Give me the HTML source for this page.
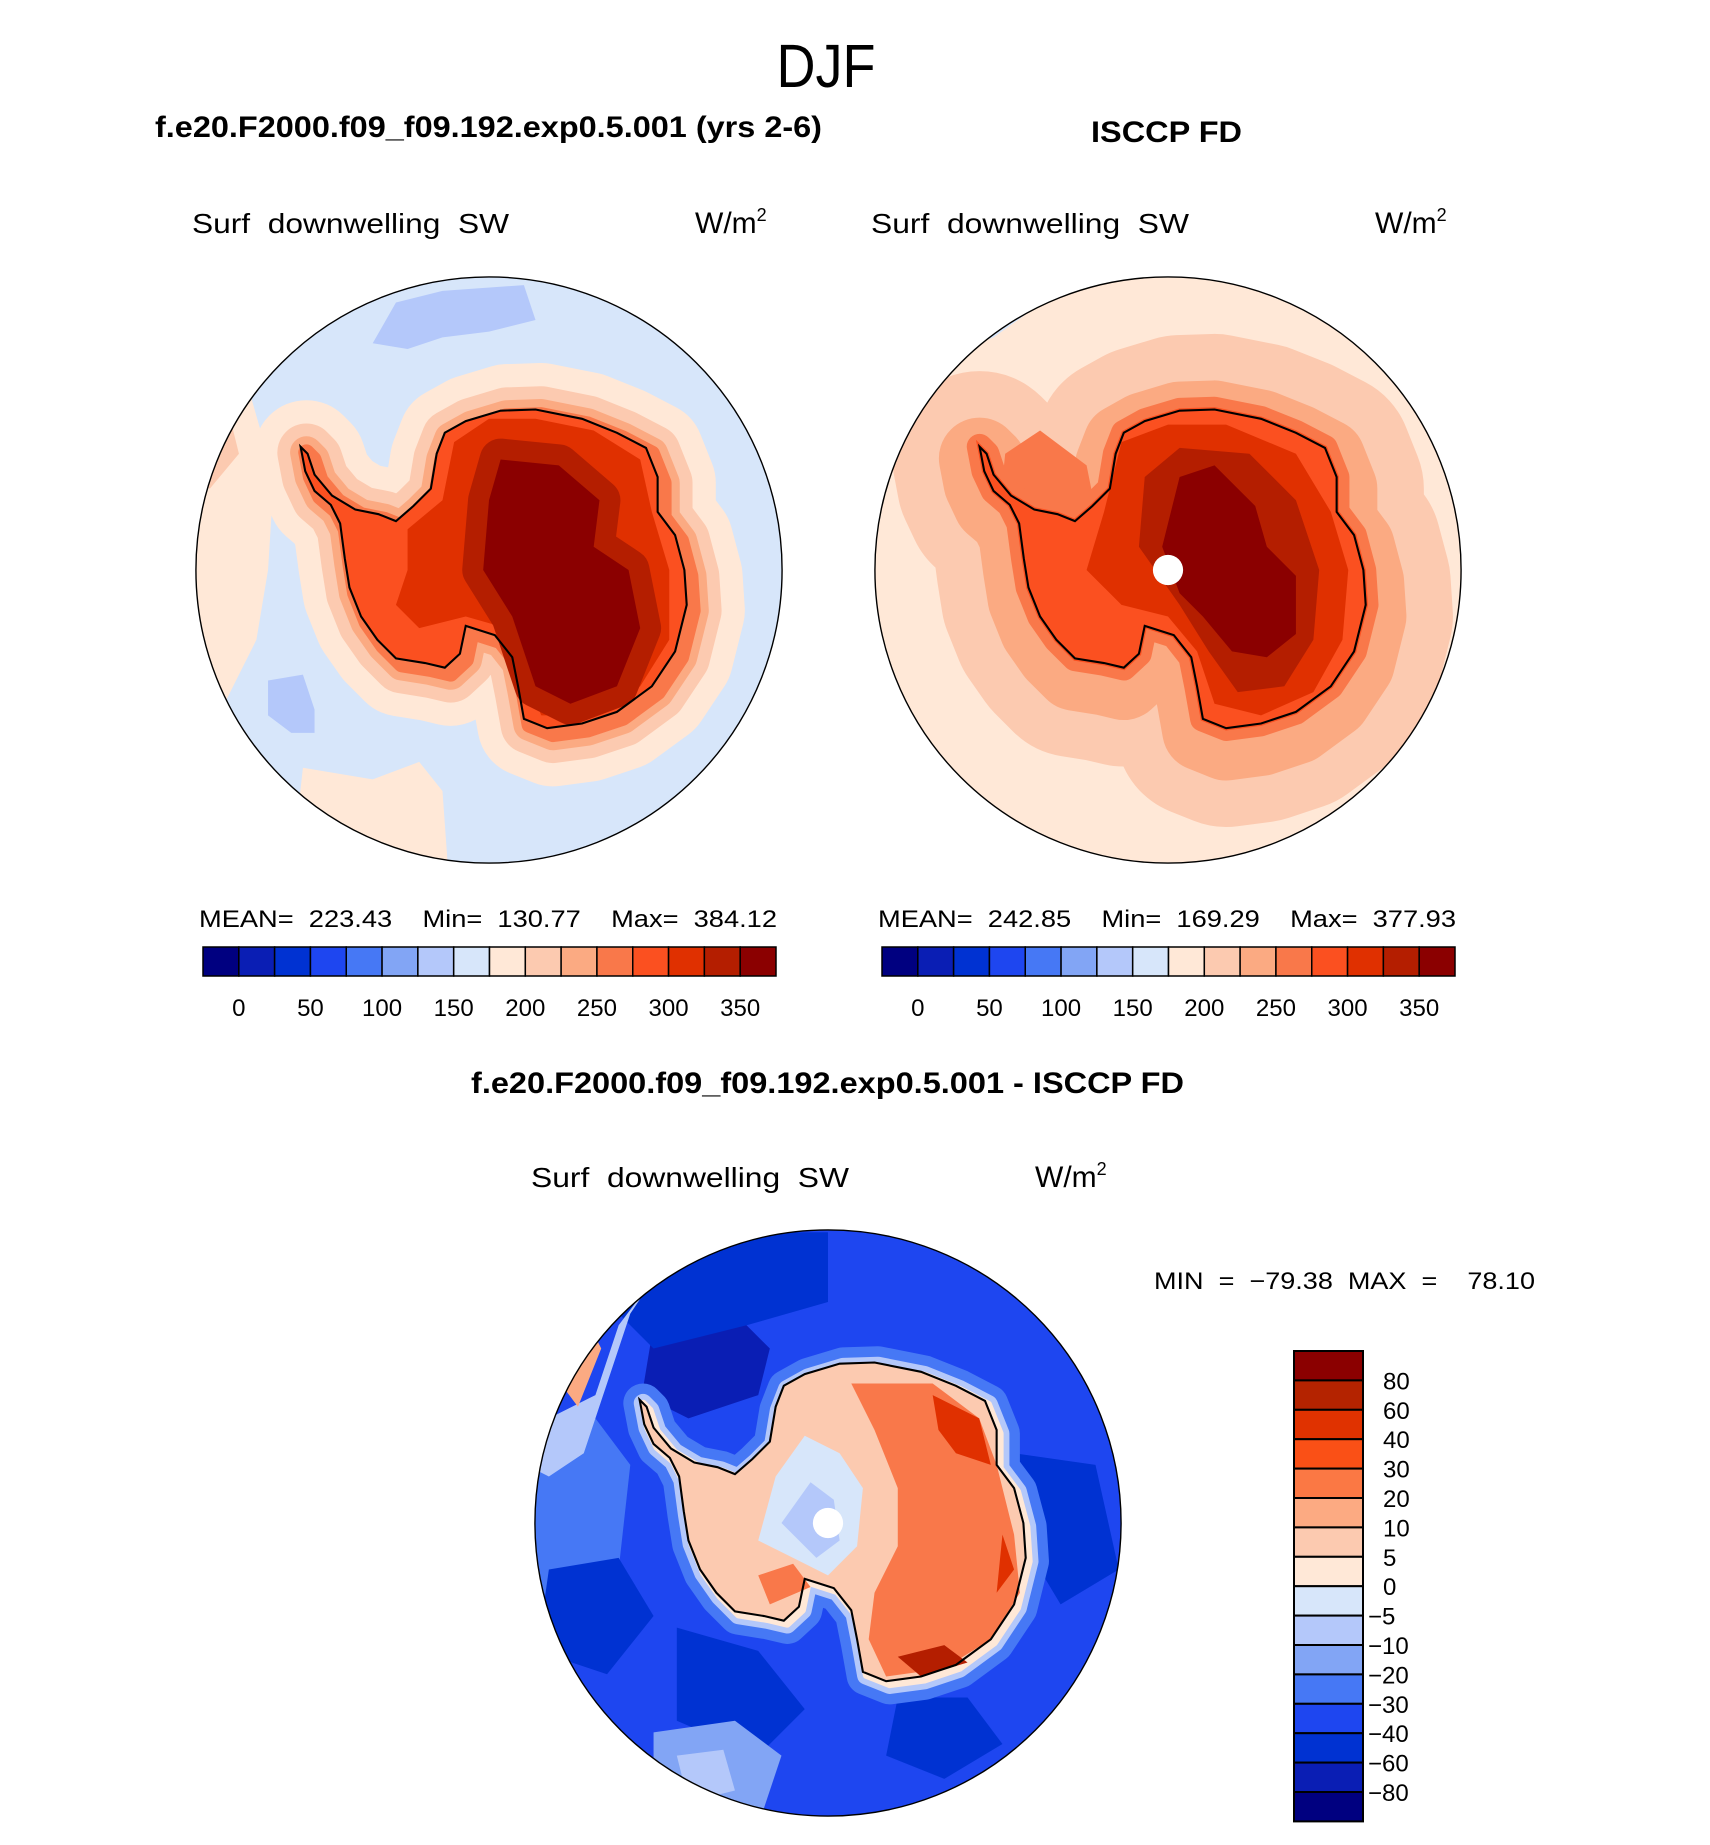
<!DOCTYPE html>
<html><head><meta charset="utf-8"><style>
html,body{margin:0;padding:0;background:#fff;}
svg text{font-family:"Liberation Sans",sans-serif;white-space:pre;}
</style></head><body>
<svg id="root" width="1710" height="1840" viewBox="0 0 1710 1840" xmlns="http://www.w3.org/2000/svg" xml:space="preserve">
<defs>
<clipPath id="cl"><circle cx="0" cy="0" r="252"/></clipPath>
<path id="cont" d="M-162,-106 L-158,-85 L-150,-68 L-136,-56 L-128,-40 L-124,-10 L-120,15 L-110,40 L-96,60 L-80,76 L-55,80 L-38,84 L-25,72 L-20,48 L5,56 L20,75 L25,100 L30,128 L50,136 L80,132 L110,122 L140,100 L160,70 L170,30 L168,0 L160,-30 L145,-50 L145,-80 L135,-105 L110,-118 L80,-130 L40,-138 L10,-137 L-20,-128 L-38,-118 L-45,-100 L-50,-70 L-65,-55 L-80,-42 L-95,-48 L-115,-52 L-135,-64 L-150,-82 L-156,-100 Z"/>
<path id="core" d="M10,-95 L60,-90 L95,-60 L90,-20 L120,0 L130,50 L110,100 L70,115 L40,100 L20,40 L-5,0 L0,-60 Z"/>
</defs>

<text x="826" y="87" font-size="56" text-anchor="middle" textLength="99" lengthAdjust="spacingAndGlyphs" transform="translate(826,87) scale(1,1.1) translate(-826,-87)">DJF</text>
<text x="155" y="137" font-size="30" font-weight="bold" textLength="667" lengthAdjust="spacingAndGlyphs">f.e20.F2000.f09_f09.192.exp0.5.001 (yrs 2-6)</text>
<text x="1091" y="142" font-size="30" font-weight="bold" textLength="151" lengthAdjust="spacingAndGlyphs">ISCCP FD</text>

<text x="192" y="233" font-size="28" textLength="317" lengthAdjust="spacingAndGlyphs">Surf  downwelling  SW</text>
<text x="695" y="233" font-size="30">W/m<tspan font-size="18" dy="-12">2</tspan></text>
<text x="871" y="233" font-size="28" textLength="318" lengthAdjust="spacingAndGlyphs">Surf  downwelling  SW</text>
<text x="1375" y="233" font-size="30">W/m<tspan font-size="18" dy="-12">2</tspan></text>

<!-- Left map -->
<g transform="translate(489,570) scale(1.163)">
<g clip-path="url(#cl)">
<rect x="-260" y="-260" width="520" height="520" fill="#d7e6fa"/>
<path d="M-260,-200 L-205,-150 L-185,-80 L-190,0 L-200,60 L-230,120 L-260,130 Z" fill="#ffe8d7"/>
<path d="M-160,-100 L-125,-110 L-120,-60 L-130,-20 L-150,20 L-160,-40 Z" fill="#ffe8d7"/>
<path d="M-260,-160 L-225,-140 L-215,-100 L-240,-70 L-260,-80 Z" fill="#fccab0"/>
<path d="M-160,170 L-100,180 L-60,165 L-40,190 L-35,260 L-170,260 Z" fill="#ffe8d7"/>
<path d="M-80,-230 L-40,-240 L30,-245 L40,-215 L0,-205 L-40,-200 L-70,-190 L-100,-195 Z" fill="#b4c8fa"/>
<path d="M-190,95 L-160,90 L-150,120 L-150,140 L-170,140 L-190,125 Z" fill="#b4c8fa"/>
<g transform="translate(5,5)">
<use href="#cont" fill="#ffe8d7" stroke="#ffe8d7" stroke-width="90" stroke-linejoin="round"/>
<use href="#cont" fill="#fccab0" stroke="#fccab0" stroke-width="50" stroke-linejoin="round"/>
<use href="#cont" fill="#fbaa82" stroke="#fbaa82" stroke-width="28" stroke-linejoin="round"/>
<use href="#cont" fill="#f9784a" stroke="#f9784a" stroke-width="14" stroke-linejoin="round"/>
</g>
<use href="#cont" fill="#fb5020"/>
<path d="M-70,-35 L-40,-60 L-30,-110 L0,-130 L40,-130 L90,-120 L130,-95 L140,-50 L155,0 L155,60 L130,100 L90,125 L45,125 L30,90 L15,50 L-20,40 L-60,50 L-80,30 L-70,0 Z" fill="#e03000"/>
<use href="#core" fill="#b41e00" stroke="#b41e00" stroke-width="36" stroke-linejoin="round"/>
<use href="#core" fill="#8b0000"/>
<use href="#cont" fill="none" stroke="#000" stroke-width="1.8"/>
</g>
<circle cx="0" cy="0" r="252" fill="none" stroke="#000" stroke-width="1.2"/>
</g>

<!-- Right map -->
<g transform="translate(1168,570) scale(1.163)">
<g clip-path="url(#cl)">
<rect x="-260" y="-260" width="520" height="520" fill="#ffe8d7"/>
<path d="M-200,-200 L-160,-240 L-110,-250 L-115,-225 L-150,-200 L-190,-185 Z" fill="#d7e6fa"/>
<g transform="translate(0,10)">
<use href="#cont" fill="#fccab0" stroke="#fccab0" stroke-width="150" stroke-linejoin="round"/>
<use href="#cont" fill="#fbaa82" stroke="#fbaa82" stroke-width="70" stroke-linejoin="round"/>
</g>
<path d="M-140,-100 L-110,-120 L-70,-90 L-60,-40 L-120,-20 L-145,-50 Z" fill="#f9784a"/>
<use href="#cont" fill="#f9784a" stroke="#f9784a" stroke-width="22" stroke-linejoin="round"/>
<use href="#cont" fill="#fb5020" stroke="#fb5020" stroke-width="4"/>
<path d="M-70,0 L-55,-50 L-40,-110 L0,-125 L50,-125 L110,-100 L140,-50 L155,0 L150,60 L125,105 L80,125 L40,115 L25,70 L0,40 L-40,30 Z" fill="#e03000"/>
<path d="M-25,-20 L-20,-80 L10,-105 L70,-100 L110,-60 L130,0 L125,60 L100,100 L60,105 L35,70 L10,30 Z" fill="#b41e00"/>
<path d="M-5,-20 L10,-80 L40,-90 L75,-55 L85,-20 L110,5 L110,55 L85,75 L55,70 L30,40 L10,20 Z" fill="#8b0000"/>
<circle cx="0" cy="0" r="13" fill="#fff"/>
<use href="#cont" fill="none" stroke="#000" stroke-width="1.8"/>
</g>
<circle cx="0" cy="0" r="252" fill="none" stroke="#000" stroke-width="1.2"/>
</g>

<text x="199" y="927" font-size="24" textLength="578" lengthAdjust="spacingAndGlyphs">MEAN=  223.43    Min=  130.77    Max=  384.12</text>
<text x="878" y="927" font-size="24" textLength="578" lengthAdjust="spacingAndGlyphs">MEAN=  242.85    Min=  169.29    Max=  377.93</text>
<g id="cbL"></g>
<g id="cbR"></g>

<text x="471" y="1093" font-size="30" font-weight="bold" textLength="713" lengthAdjust="spacingAndGlyphs">f.e20.F2000.f09_f09.192.exp0.5.001 - ISCCP FD</text>
<text x="531" y="1187" font-size="28" textLength="318" lengthAdjust="spacingAndGlyphs">Surf  downwelling  SW</text>
<text x="1035" y="1187" font-size="30">W/m<tspan font-size="18" dy="-12">2</tspan></text>
<text x="1154" y="1289" font-size="24" textLength="381" lengthAdjust="spacingAndGlyphs">MIN  =  −79.38  MAX  =    78.10</text>

<!-- Bottom diff map -->
<g transform="translate(828,1523) scale(1.163)">
<g clip-path="url(#cl)">
<rect x="-260" y="-260" width="520" height="520" fill="#1e46f0"/>
<path d="M-260,-60 L-200,-90 L-170,-50 L-180,40 L-200,80 L-260,90 Z" fill="#4678f5"/>
<path d="M-150,-170 L-90,-190 L-50,-150 L-60,-110 L-120,-90 L-160,-110 Z" fill="#0a1eb4"/>
<path d="M-200,-200 L-120,-230 L-40,-250 L0,-250 L0,-190 L-70,-170 L-150,-150 Z" fill="#0032d2"/>
<path d="M-130,90 L-60,110 L-20,160 L-60,200 L-130,170 Z" fill="#0032d2"/>
<path d="M-240,40 L-180,30 L-150,80 L-190,130 L-250,110 Z" fill="#0032d2"/>
<path d="M160,-60 L230,-50 L250,40 L200,70 L170,20 Z" fill="#0032d2"/>
<path d="M60,150 L120,150 L150,190 L100,220 L50,200 Z" fill="#0032d2"/>
<path d="M-200,-110 L-180,-170 L-150,-210 L-170,-180 L-190,-120 L-210,-60 L-240,-40 L-260,-50 L-240,-90 Z" fill="#b4c8fa"/>
<path d="M-230,-120 L-205,-170 L-195,-150 L-215,-100 Z" fill="#fbaa82"/>
<path d="M-150,180 L-80,170 L-40,200 L-60,260 L-150,260 Z" fill="#82a5f5"/>
<path d="M-130,200 L-90,195 L-80,230 L-120,240 Z" fill="#b4c8fa"/>
<g transform="translate(3,3)">
<use href="#cont" fill="#4678f5" stroke="#4678f5" stroke-width="34" stroke-linejoin="round"/>
<use href="#cont" fill="#b4c8fa" stroke="#b4c8fa" stroke-width="16" stroke-linejoin="round"/>
<use href="#cont" fill="#ffe8d7" stroke="#ffe8d7" stroke-width="6" stroke-linejoin="round"/>
</g>
<use href="#cont" fill="#fccab0"/>
<path d="M20,-120 L90,-120 L130,-90 L145,-50 L160,10 L165,60 L140,100 L100,125 L50,132 L35,100 L40,60 L60,20 L60,-30 L40,-80 Z" fill="#f9784a"/>
<path d="M90,-110 L130,-90 L140,-50 L110,-60 L95,-80 Z" fill="#e03000"/>
<path d="M150,10 L160,40 L145,60 Z" fill="#e03000"/>
<path d="M60,115 L100,105 L120,120 L80,132 Z" fill="#b41e00"/>
<path d="M-60,45 L-30,35 L-15,55 L-50,70 Z" fill="#f9784a"/>
<path d="M-45,-40 L-20,-75 L10,-60 L30,-30 L25,20 L0,45 L-30,30 L-60,15 Z" fill="#d7e6fa"/>
<path d="M-40,0 L-15,-35 L5,-20 L10,15 L-10,30 Z" fill="#b4c8fa"/>
<circle cx="0" cy="0" r="13" fill="#fff"/>
<use href="#cont" fill="none" stroke="#000" stroke-width="1.8"/>
</g>
<circle cx="0" cy="0" r="252" fill="none" stroke="#000" stroke-width="1.2"/>
</g>
<g id="cbB"></g>
</svg>
<script>
const absColors = ["#000080","#0a1eb4","#0032d2","#1e46f0","#4678f5","#82a5f5","#b4c8fa","#d7e6fa","#ffe8d7","#fccab0","#fbaa82","#f9784a","#fb5020","#e03000","#b41e00","#8b0000"];
const absLevels = [0,25,50,75,100,125,150,175,200,225,250,275,300,325,350];
const absTickLabels = ["0","50","100","150","200","250","300","350"];
const absTickValues = [0,50,100,150,200,250,300,350];
const diffColors = ["#8b0000","#b42300","#e03200","#fa5016","#fb7844","#fcaa82","#fccab0","#ffe8d7","#d7e6fa","#b4c8fa","#82a5f5","#4678f5","#1e46f0","#0032d2","#0a1eb4","#000080"];
const diffLevels = [80,60,40,30,20,10,5,0,-5,-10,-20,-30,-40,-60,-80];
const NS = "http://www.w3.org/2000/svg";
function mk(tag, attrs, parent){const e=document.createElementNS(NS,tag);for(const k in attrs)e.setAttribute(k,attrs[k]);parent.appendChild(e);return e;}
function hbar(id, x0, y0, w, h){
  const g=document.getElementById(id);
  const bw=w/absColors.length;
  const xOf=v=>x0+bw*(absLevels.indexOf(v)+1);
  absColors.forEach((c,i)=>{
    const r=mk("rect",{x:x0+i*bw,y:y0,width:bw,height:h,fill:c,stroke:"#000","stroke-width":1.5},g);
    
    
  });
  absTickValues.forEach((v,i)=>{
    const t=mk("text",{x:xOf(v),y:y0+h+40,"font-size":24,"text-anchor":"middle"},g);
    t.textContent=absTickLabels[i];
    
    
  });
}
hbar("cbL",203,947,573,29);
hbar("cbR",882,947,573,29);
(function(){
  const g=document.getElementById("cbB");
  const x0=1294,y0=1351,w=69,bh=29.4;
  const yOf=i=>y0+bh*(i+1);
  diffColors.forEach((c,i)=>{
    const r=mk("rect",{x:x0,y:y0+i*bh,width:w,height:bh,fill:c,stroke:"#000","stroke-width":2},g);
    
    
  });
  diffLevels.forEach((v,i)=>{
    const t=mk("text",{x:v<0?1368:1383,y:yOf(i)+9,"font-size":24},g);
    t.textContent=v<0?"−"+Math.abs(v):String(v);
    
    
  });
})();
</script>
</body></html>
